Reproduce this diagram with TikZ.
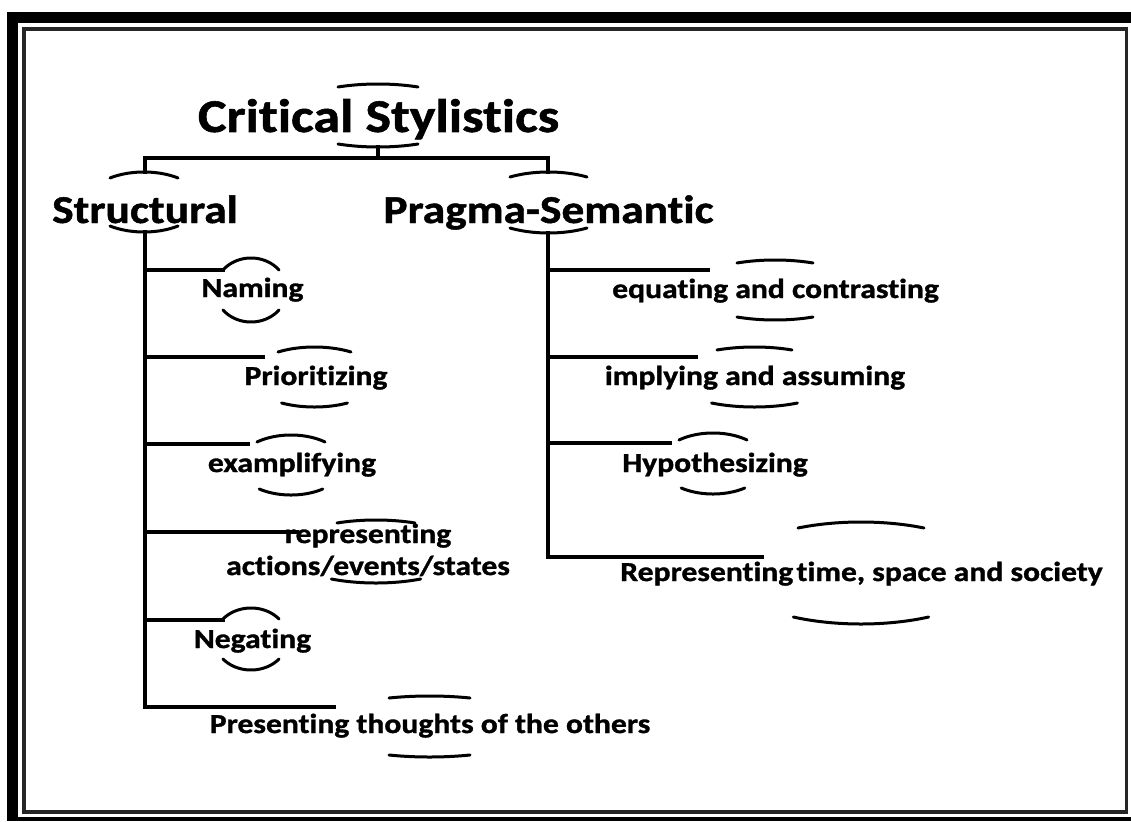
\documentclass[tikz,border=0pt]{standalone}
\usepackage{fontspec}
\setmainfont{Carlito}[FakeStretch=1.15, Ligatures={NoCommon}, RawFeature={-liga}, BoldFeatures={FakeBold=1.2}]
\begin{document}
\begin{tikzpicture}[x=1pt,y=-1pt,
  conn/.style={line width=3.2pt, line cap=rect},
  lensline/.style={line width=3pt, line cap=round},
  titletext/.style={inner sep=0pt, anchor=base, font=\bfseries\fontsize{47}{56}\selectfont},
  midtext/.style={inner sep=0pt, anchor=base, font=\bfseries\fontsize{39.5}{46}\selectfont},
  leaftext/.style={inner sep=0pt, anchor=base, font=\bfseries\fontsize{27.5}{32}\selectfont, align=center},
]
\newcommand\lensarcs[6]{%
  \pgfmathsetmacro\Lcy{(#3+#6)/2}%
  \pgfmathsetmacro\Lry{(#6-#3)/2}%
  \pgfmathsetmacro\Lta{asin((\Lcy-#4)/\Lry)}%
  \pgfmathsetmacro\Ltb{asin((#5-\Lcy)/\Lry)}%
  \pgfmathsetmacro\Lrx{#2/cos(\Lta)}%
  \pgfmathsetmacro\Lsa{180+\Lta}%
  \pgfmathsetmacro\Lea{360-\Lta}%
  \pgfmathsetmacro\Leb{180-\Ltb}%
  \draw[lensline] plot[domain=\Lsa:\Lea, samples=40, smooth] ({#1+\Lrx*cos(\x)},{\Lcy+\Lry*sin(\x)});
  \draw[lensline] plot[domain=\Ltb:\Leb, samples=40, smooth] ({#1+\Lrx*cos(\x)},{\Lcy+\Lry*sin(\x)});
}
\useasboundingbox (0,0) rectangle (1131,821);
\fill[white] (0,0) rectangle (1131,821);
% frame
\fill[black] (7,12) rectangle (18,821);
\fill[black] (7,12) rectangle (1131,23);
\fill[black] (18,817) rectangle (1131,821);
\draw[line width=3.6pt, black!85] (24,29) rectangle (1126.5,812);

% texts
\node[titletext] (title) at (378.5,132) {Critical Stylistics};
\node[midtext] (struct) at (145,223) {Structural};
\node[midtext] (prag) at (548.5,223) {Pragma-Semantic};

\node[leaftext] (naming) at (252.5,297) {Naming};
\node[leaftext] (prior) at (316,385) {Prioritizing};
\node[leaftext] (exampl) at (292,472) {examplifying};
\node[leaftext] (repr) at (368,575) {representing\\actions/events/states};
\node[leaftext] (negat) at (252.5,648) {Negating};
\node[leaftext] (present) at (430,733) {Presenting thoughts of the others};

\node[leaftext] (equat) at (775.5,298) {equating and contrasting};
\node[leaftext] (impl) at (755,385) {implying and assuming};
\node[leaftext] (hypo) at (715,472) {Hypothesizing};
\node[leaftext] (rtime) at (861.5,581) {Representing\hspace{0.12em}time, space and society};

% arcs (cx, half-width, top peak, top end, bottom end, bottom)
\lensarcs{378}{40}{84}{87}{144}{147}
\lensarcs{144}{34}{172}{178}{226}{232}
\lensarcs{548.5}{38.5}{172}{177}{228}{233}
\lensarcs{251}{28}{258}{270}{310}{322}
\lensarcs{314.5}{36.5}{347}{352}{403}{407}
\lensarcs{291}{34}{435}{442}{489}{495}
\lensarcs{376}{39}{520}{523}{579}{583}
\lensarcs{251}{28}{608}{619}{659}{670}
\lensarcs{429.5}{40.5}{696}{698}{755}{757}
\lensarcs{775}{38}{260}{263}{317}{320}
\lensarcs{754.5}{37.5}{347}{350}{403}{407}
\lensarcs{713}{34}{433}{440}{488}{494}
\lensarcs{861}{63}{522}{528}{617}{624}

% connector anchor points
\coordinate (titleB) at (378,147);
\coordinate (structT) at (145,172);
\coordinate (structB) at (145,232);
\coordinate (pragT) at (548,172);
\coordinate (pragB) at (548,233);
\coordinate (eNaming) at (223,270);
\coordinate (ePrior) at (263,357);
\coordinate (eExampl) at (248,444);
\coordinate (eRepr) at (297,532);
\coordinate (eNegat) at (223,620);
\coordinate (ePresent) at (334,707);
\coordinate (eEquat) at (708,270);
\coordinate (eImpl) at (696,357);
\coordinate (eHypo) at (670,443);
\coordinate (eRtime) at (762,557);

% connectors
\draw[conn] (titleB) -- (378,158) -| (structT);
\draw[conn] (378,158) -| (pragT);
\draw[conn] (structB) |- (ePresent);
\draw[conn] (structB |- eNaming) -- (eNaming);
\draw[conn] (structB |- ePrior) -- (ePrior);
\draw[conn] (structB |- eExampl) -- (eExampl);
\draw[conn] (structB |- eRepr) -- (eRepr);
\draw[conn] (structB |- eNegat) -- (eNegat);
\draw[conn] (pragB) |- (eRtime);
\draw[conn] (pragB |- eEquat) -- (eEquat);
\draw[conn] (pragB |- eImpl) -- (eImpl);
\draw[conn] (pragB |- eHypo) -- (eHypo);
\end{tikzpicture}
\end{document}
